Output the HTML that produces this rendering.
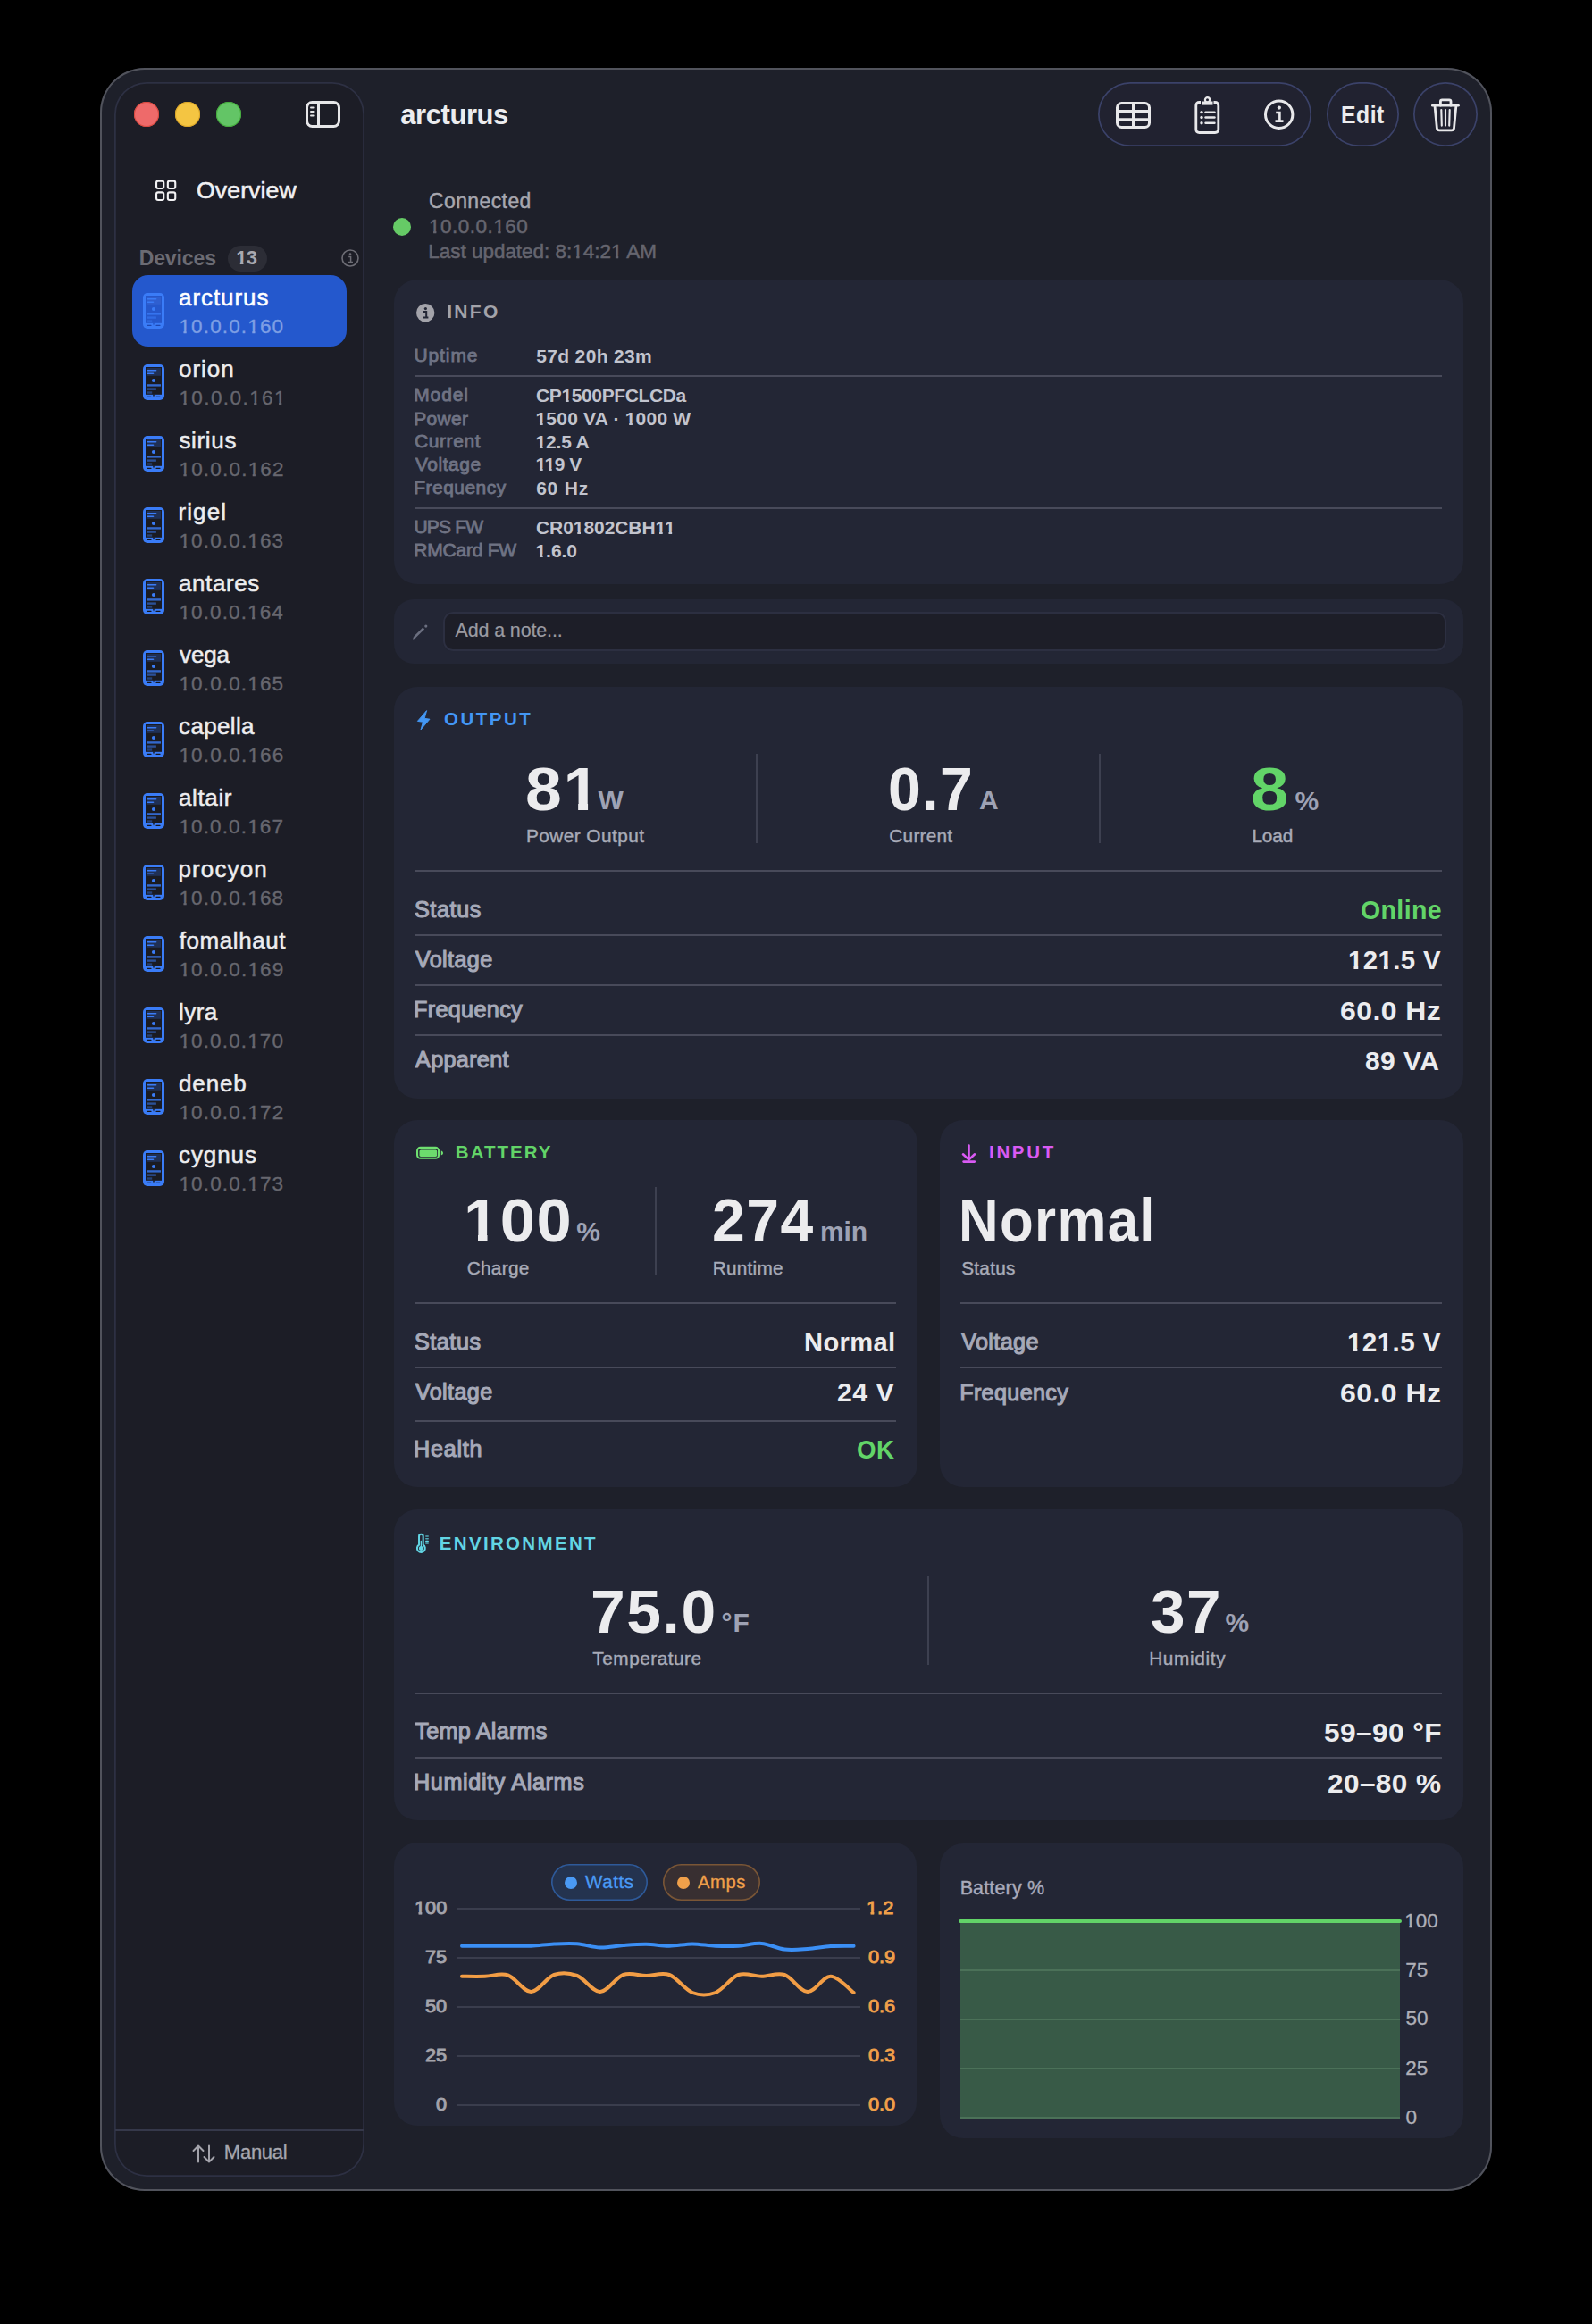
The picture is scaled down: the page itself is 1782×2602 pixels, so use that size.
<!DOCTYPE html>
<html><head><meta charset="utf-8"><style>
html,body{margin:0;padding:0;background:#000;width:1782px;height:2602px;overflow:hidden}
body{position:relative;font-family:"Liberation Sans",sans-serif}
.t{position:absolute;white-space:nowrap}
</style></head><body>
<div style="position:absolute;left:112.00px;top:76.00px;width:1558.00px;height:2377.00px;border-radius:50px;background:#1e202a;box-shadow:inset 0 0 0 2px #51535c"></div>
<div style="position:absolute;left:128.00px;top:92.00px;width:280.00px;height:2345.00px;border-radius:36px;background:#1c1d26;box-shadow:inset 0 0 0 1.8px #2d3043"></div>
<div style="position:absolute;left:150.00px;top:114.00px;width:28.00px;height:28.00px;border-radius:50%;background:#ee6a6a;box-shadow:inset 0 0 0 1px #d9493f"></div>
<div style="position:absolute;left:196.00px;top:114.00px;width:28.00px;height:28.00px;border-radius:50%;background:#f4c542;box-shadow:inset 0 0 0 1px #dba628"></div>
<div style="position:absolute;left:242.00px;top:114.00px;width:28.00px;height:28.00px;border-radius:50%;background:#63c566;box-shadow:inset 0 0 0 1px #45ad3c"></div>
<svg style="position:absolute;left:342.00px;top:112.00px;overflow:visible" width="40" height="32" viewBox="0 0 40 32"><rect x="1.5" y="2.5" width="36" height="27" rx="6" fill="none" stroke="#e6e6e8" stroke-width="3"/><line x1="14.5" y1="3" x2="14.5" y2="29" stroke="#e6e6e8" stroke-width="3"/><g stroke="#e6e6e8" stroke-width="2" stroke-linecap="round"><line x1="6" y1="8.6" x2="9.6" y2="8.6"/><line x1="6" y1="13" x2="9.6" y2="13"/><line x1="6" y1="17.4" x2="9.6" y2="17.4"/></g></svg>
<svg style="position:absolute;left:0;top:0;pointer-events:none" width="1782" height="2602"><g fill="none" stroke="#f2f2f4" stroke-width="2.1"><rect x="175.05" y="202.65" width="8.2" height="8.4" rx="2"/><rect x="187.85" y="202.65" width="8.4" height="8.4" rx="2"/><rect x="175.05" y="215.35" width="8.2" height="8.7" rx="2"/><rect x="187.85" y="215.35" width="8.4" height="8.7" rx="2"/></g></svg>
<div style="position:absolute;left:255.00px;top:274.50px;width:44.00px;height:29.20px;border-radius:15px;background:#2c2d36"></div>
<svg style="position:absolute;left:382.00px;top:279.00px;overflow:visible" width="20" height="20" viewBox="0 0 20 20"><circle cx="10" cy="10" r="9" fill="none" stroke="#6d6d75" stroke-width="1.6"/><circle cx="10" cy="5.6" r="1.3" fill="#6d6d75"/><path d="M8.2 8.6h2.4v6M8 14.6h5" fill="none" stroke="#6d6d75" stroke-width="1.5"/></svg>
<div style="position:absolute;left:148.00px;top:308.00px;width:240.00px;height:80.00px;border-radius:18px;background:#2458cd"></div>
<svg style="position:absolute;left:160.00px;top:328.30px;overflow:visible" width="24" height="40" viewBox="0 0 24 40"><rect x="0" y="0" width="24" height="40" rx="5" fill="#3a7cf7"/><rect x="3" y="3" width="18" height="30.8" fill="#2557cb"/><rect x="4" y="4" width="16" height="8.8" fill="#2f5fd0"/><g stroke="#3a7cf7" stroke-linecap="round"><line x1="5.4" y1="6.7" x2="14.6" y2="6.7" stroke-width="1.6"/><line x1="5.4" y1="10.3" x2="11.5" y2="10.3" stroke-width="1.6"/></g><circle cx="12" cy="18" r="2.1" fill="#3a7cf7"/><rect x="4" y="22.2" width="16" height="2.4" fill="#3a7cf7" opacity="0.8"/><rect x="4" y="26.4" width="10.9" height="2.4" fill="#3a7cf7" opacity="0.55"/><rect x="4" y="30.3" width="6.2" height="2.4" fill="#3a7cf7" opacity="0.4"/><g stroke="#1d46b0" stroke-width="1.1" stroke-linecap="round"><line x1="5" y1="36.4" x2="9" y2="36.4"/><line x1="15" y1="36.4" x2="19" y2="36.4"/></g><path d="M10.9 33.6 L12 36.8 L13.1 33.6Z" fill="#2557cb"/></svg>
<svg style="position:absolute;left:160.00px;top:408.30px;overflow:visible" width="24" height="40" viewBox="0 0 24 40"><rect x="0" y="0" width="24" height="40" rx="5" fill="#3a7cf7"/><rect x="3" y="3" width="18" height="30.8" fill="#1a1b22"/><rect x="4" y="4" width="16" height="8.8" fill="#203055"/><g stroke="#3a7cf7" stroke-linecap="round"><line x1="5.4" y1="6.7" x2="14.6" y2="6.7" stroke-width="1.6"/><line x1="5.4" y1="10.3" x2="11.5" y2="10.3" stroke-width="1.6"/></g><circle cx="12" cy="18" r="2.1" fill="#3a7cf7"/><rect x="4" y="22.2" width="16" height="2.4" fill="#3a7cf7" opacity="0.8"/><rect x="4" y="26.4" width="10.9" height="2.4" fill="#3a7cf7" opacity="0.55"/><rect x="4" y="30.3" width="6.2" height="2.4" fill="#3a7cf7" opacity="0.4"/><g stroke="#15161d" stroke-width="1.1" stroke-linecap="round"><line x1="5" y1="36.4" x2="9" y2="36.4"/><line x1="15" y1="36.4" x2="19" y2="36.4"/></g><path d="M10.9 33.6 L12 36.8 L13.1 33.6Z" fill="#1a1b22"/></svg>
<svg style="position:absolute;left:160.00px;top:488.30px;overflow:visible" width="24" height="40" viewBox="0 0 24 40"><rect x="0" y="0" width="24" height="40" rx="5" fill="#3a7cf7"/><rect x="3" y="3" width="18" height="30.8" fill="#1a1b22"/><rect x="4" y="4" width="16" height="8.8" fill="#203055"/><g stroke="#3a7cf7" stroke-linecap="round"><line x1="5.4" y1="6.7" x2="14.6" y2="6.7" stroke-width="1.6"/><line x1="5.4" y1="10.3" x2="11.5" y2="10.3" stroke-width="1.6"/></g><circle cx="12" cy="18" r="2.1" fill="#3a7cf7"/><rect x="4" y="22.2" width="16" height="2.4" fill="#3a7cf7" opacity="0.8"/><rect x="4" y="26.4" width="10.9" height="2.4" fill="#3a7cf7" opacity="0.55"/><rect x="4" y="30.3" width="6.2" height="2.4" fill="#3a7cf7" opacity="0.4"/><g stroke="#15161d" stroke-width="1.1" stroke-linecap="round"><line x1="5" y1="36.4" x2="9" y2="36.4"/><line x1="15" y1="36.4" x2="19" y2="36.4"/></g><path d="M10.9 33.6 L12 36.8 L13.1 33.6Z" fill="#1a1b22"/></svg>
<svg style="position:absolute;left:160.00px;top:568.30px;overflow:visible" width="24" height="40" viewBox="0 0 24 40"><rect x="0" y="0" width="24" height="40" rx="5" fill="#3a7cf7"/><rect x="3" y="3" width="18" height="30.8" fill="#1a1b22"/><rect x="4" y="4" width="16" height="8.8" fill="#203055"/><g stroke="#3a7cf7" stroke-linecap="round"><line x1="5.4" y1="6.7" x2="14.6" y2="6.7" stroke-width="1.6"/><line x1="5.4" y1="10.3" x2="11.5" y2="10.3" stroke-width="1.6"/></g><circle cx="12" cy="18" r="2.1" fill="#3a7cf7"/><rect x="4" y="22.2" width="16" height="2.4" fill="#3a7cf7" opacity="0.8"/><rect x="4" y="26.4" width="10.9" height="2.4" fill="#3a7cf7" opacity="0.55"/><rect x="4" y="30.3" width="6.2" height="2.4" fill="#3a7cf7" opacity="0.4"/><g stroke="#15161d" stroke-width="1.1" stroke-linecap="round"><line x1="5" y1="36.4" x2="9" y2="36.4"/><line x1="15" y1="36.4" x2="19" y2="36.4"/></g><path d="M10.9 33.6 L12 36.8 L13.1 33.6Z" fill="#1a1b22"/></svg>
<svg style="position:absolute;left:160.00px;top:648.30px;overflow:visible" width="24" height="40" viewBox="0 0 24 40"><rect x="0" y="0" width="24" height="40" rx="5" fill="#3a7cf7"/><rect x="3" y="3" width="18" height="30.8" fill="#1a1b22"/><rect x="4" y="4" width="16" height="8.8" fill="#203055"/><g stroke="#3a7cf7" stroke-linecap="round"><line x1="5.4" y1="6.7" x2="14.6" y2="6.7" stroke-width="1.6"/><line x1="5.4" y1="10.3" x2="11.5" y2="10.3" stroke-width="1.6"/></g><circle cx="12" cy="18" r="2.1" fill="#3a7cf7"/><rect x="4" y="22.2" width="16" height="2.4" fill="#3a7cf7" opacity="0.8"/><rect x="4" y="26.4" width="10.9" height="2.4" fill="#3a7cf7" opacity="0.55"/><rect x="4" y="30.3" width="6.2" height="2.4" fill="#3a7cf7" opacity="0.4"/><g stroke="#15161d" stroke-width="1.1" stroke-linecap="round"><line x1="5" y1="36.4" x2="9" y2="36.4"/><line x1="15" y1="36.4" x2="19" y2="36.4"/></g><path d="M10.9 33.6 L12 36.8 L13.1 33.6Z" fill="#1a1b22"/></svg>
<svg style="position:absolute;left:160.00px;top:728.30px;overflow:visible" width="24" height="40" viewBox="0 0 24 40"><rect x="0" y="0" width="24" height="40" rx="5" fill="#3a7cf7"/><rect x="3" y="3" width="18" height="30.8" fill="#1a1b22"/><rect x="4" y="4" width="16" height="8.8" fill="#203055"/><g stroke="#3a7cf7" stroke-linecap="round"><line x1="5.4" y1="6.7" x2="14.6" y2="6.7" stroke-width="1.6"/><line x1="5.4" y1="10.3" x2="11.5" y2="10.3" stroke-width="1.6"/></g><circle cx="12" cy="18" r="2.1" fill="#3a7cf7"/><rect x="4" y="22.2" width="16" height="2.4" fill="#3a7cf7" opacity="0.8"/><rect x="4" y="26.4" width="10.9" height="2.4" fill="#3a7cf7" opacity="0.55"/><rect x="4" y="30.3" width="6.2" height="2.4" fill="#3a7cf7" opacity="0.4"/><g stroke="#15161d" stroke-width="1.1" stroke-linecap="round"><line x1="5" y1="36.4" x2="9" y2="36.4"/><line x1="15" y1="36.4" x2="19" y2="36.4"/></g><path d="M10.9 33.6 L12 36.8 L13.1 33.6Z" fill="#1a1b22"/></svg>
<svg style="position:absolute;left:160.00px;top:808.30px;overflow:visible" width="24" height="40" viewBox="0 0 24 40"><rect x="0" y="0" width="24" height="40" rx="5" fill="#3a7cf7"/><rect x="3" y="3" width="18" height="30.8" fill="#1a1b22"/><rect x="4" y="4" width="16" height="8.8" fill="#203055"/><g stroke="#3a7cf7" stroke-linecap="round"><line x1="5.4" y1="6.7" x2="14.6" y2="6.7" stroke-width="1.6"/><line x1="5.4" y1="10.3" x2="11.5" y2="10.3" stroke-width="1.6"/></g><circle cx="12" cy="18" r="2.1" fill="#3a7cf7"/><rect x="4" y="22.2" width="16" height="2.4" fill="#3a7cf7" opacity="0.8"/><rect x="4" y="26.4" width="10.9" height="2.4" fill="#3a7cf7" opacity="0.55"/><rect x="4" y="30.3" width="6.2" height="2.4" fill="#3a7cf7" opacity="0.4"/><g stroke="#15161d" stroke-width="1.1" stroke-linecap="round"><line x1="5" y1="36.4" x2="9" y2="36.4"/><line x1="15" y1="36.4" x2="19" y2="36.4"/></g><path d="M10.9 33.6 L12 36.8 L13.1 33.6Z" fill="#1a1b22"/></svg>
<svg style="position:absolute;left:160.00px;top:888.30px;overflow:visible" width="24" height="40" viewBox="0 0 24 40"><rect x="0" y="0" width="24" height="40" rx="5" fill="#3a7cf7"/><rect x="3" y="3" width="18" height="30.8" fill="#1a1b22"/><rect x="4" y="4" width="16" height="8.8" fill="#203055"/><g stroke="#3a7cf7" stroke-linecap="round"><line x1="5.4" y1="6.7" x2="14.6" y2="6.7" stroke-width="1.6"/><line x1="5.4" y1="10.3" x2="11.5" y2="10.3" stroke-width="1.6"/></g><circle cx="12" cy="18" r="2.1" fill="#3a7cf7"/><rect x="4" y="22.2" width="16" height="2.4" fill="#3a7cf7" opacity="0.8"/><rect x="4" y="26.4" width="10.9" height="2.4" fill="#3a7cf7" opacity="0.55"/><rect x="4" y="30.3" width="6.2" height="2.4" fill="#3a7cf7" opacity="0.4"/><g stroke="#15161d" stroke-width="1.1" stroke-linecap="round"><line x1="5" y1="36.4" x2="9" y2="36.4"/><line x1="15" y1="36.4" x2="19" y2="36.4"/></g><path d="M10.9 33.6 L12 36.8 L13.1 33.6Z" fill="#1a1b22"/></svg>
<svg style="position:absolute;left:160.00px;top:968.30px;overflow:visible" width="24" height="40" viewBox="0 0 24 40"><rect x="0" y="0" width="24" height="40" rx="5" fill="#3a7cf7"/><rect x="3" y="3" width="18" height="30.8" fill="#1a1b22"/><rect x="4" y="4" width="16" height="8.8" fill="#203055"/><g stroke="#3a7cf7" stroke-linecap="round"><line x1="5.4" y1="6.7" x2="14.6" y2="6.7" stroke-width="1.6"/><line x1="5.4" y1="10.3" x2="11.5" y2="10.3" stroke-width="1.6"/></g><circle cx="12" cy="18" r="2.1" fill="#3a7cf7"/><rect x="4" y="22.2" width="16" height="2.4" fill="#3a7cf7" opacity="0.8"/><rect x="4" y="26.4" width="10.9" height="2.4" fill="#3a7cf7" opacity="0.55"/><rect x="4" y="30.3" width="6.2" height="2.4" fill="#3a7cf7" opacity="0.4"/><g stroke="#15161d" stroke-width="1.1" stroke-linecap="round"><line x1="5" y1="36.4" x2="9" y2="36.4"/><line x1="15" y1="36.4" x2="19" y2="36.4"/></g><path d="M10.9 33.6 L12 36.8 L13.1 33.6Z" fill="#1a1b22"/></svg>
<svg style="position:absolute;left:160.00px;top:1048.30px;overflow:visible" width="24" height="40" viewBox="0 0 24 40"><rect x="0" y="0" width="24" height="40" rx="5" fill="#3a7cf7"/><rect x="3" y="3" width="18" height="30.8" fill="#1a1b22"/><rect x="4" y="4" width="16" height="8.8" fill="#203055"/><g stroke="#3a7cf7" stroke-linecap="round"><line x1="5.4" y1="6.7" x2="14.6" y2="6.7" stroke-width="1.6"/><line x1="5.4" y1="10.3" x2="11.5" y2="10.3" stroke-width="1.6"/></g><circle cx="12" cy="18" r="2.1" fill="#3a7cf7"/><rect x="4" y="22.2" width="16" height="2.4" fill="#3a7cf7" opacity="0.8"/><rect x="4" y="26.4" width="10.9" height="2.4" fill="#3a7cf7" opacity="0.55"/><rect x="4" y="30.3" width="6.2" height="2.4" fill="#3a7cf7" opacity="0.4"/><g stroke="#15161d" stroke-width="1.1" stroke-linecap="round"><line x1="5" y1="36.4" x2="9" y2="36.4"/><line x1="15" y1="36.4" x2="19" y2="36.4"/></g><path d="M10.9 33.6 L12 36.8 L13.1 33.6Z" fill="#1a1b22"/></svg>
<svg style="position:absolute;left:160.00px;top:1128.30px;overflow:visible" width="24" height="40" viewBox="0 0 24 40"><rect x="0" y="0" width="24" height="40" rx="5" fill="#3a7cf7"/><rect x="3" y="3" width="18" height="30.8" fill="#1a1b22"/><rect x="4" y="4" width="16" height="8.8" fill="#203055"/><g stroke="#3a7cf7" stroke-linecap="round"><line x1="5.4" y1="6.7" x2="14.6" y2="6.7" stroke-width="1.6"/><line x1="5.4" y1="10.3" x2="11.5" y2="10.3" stroke-width="1.6"/></g><circle cx="12" cy="18" r="2.1" fill="#3a7cf7"/><rect x="4" y="22.2" width="16" height="2.4" fill="#3a7cf7" opacity="0.8"/><rect x="4" y="26.4" width="10.9" height="2.4" fill="#3a7cf7" opacity="0.55"/><rect x="4" y="30.3" width="6.2" height="2.4" fill="#3a7cf7" opacity="0.4"/><g stroke="#15161d" stroke-width="1.1" stroke-linecap="round"><line x1="5" y1="36.4" x2="9" y2="36.4"/><line x1="15" y1="36.4" x2="19" y2="36.4"/></g><path d="M10.9 33.6 L12 36.8 L13.1 33.6Z" fill="#1a1b22"/></svg>
<svg style="position:absolute;left:160.00px;top:1208.30px;overflow:visible" width="24" height="40" viewBox="0 0 24 40"><rect x="0" y="0" width="24" height="40" rx="5" fill="#3a7cf7"/><rect x="3" y="3" width="18" height="30.8" fill="#1a1b22"/><rect x="4" y="4" width="16" height="8.8" fill="#203055"/><g stroke="#3a7cf7" stroke-linecap="round"><line x1="5.4" y1="6.7" x2="14.6" y2="6.7" stroke-width="1.6"/><line x1="5.4" y1="10.3" x2="11.5" y2="10.3" stroke-width="1.6"/></g><circle cx="12" cy="18" r="2.1" fill="#3a7cf7"/><rect x="4" y="22.2" width="16" height="2.4" fill="#3a7cf7" opacity="0.8"/><rect x="4" y="26.4" width="10.9" height="2.4" fill="#3a7cf7" opacity="0.55"/><rect x="4" y="30.3" width="6.2" height="2.4" fill="#3a7cf7" opacity="0.4"/><g stroke="#15161d" stroke-width="1.1" stroke-linecap="round"><line x1="5" y1="36.4" x2="9" y2="36.4"/><line x1="15" y1="36.4" x2="19" y2="36.4"/></g><path d="M10.9 33.6 L12 36.8 L13.1 33.6Z" fill="#1a1b22"/></svg>
<svg style="position:absolute;left:160.00px;top:1288.30px;overflow:visible" width="24" height="40" viewBox="0 0 24 40"><rect x="0" y="0" width="24" height="40" rx="5" fill="#3a7cf7"/><rect x="3" y="3" width="18" height="30.8" fill="#1a1b22"/><rect x="4" y="4" width="16" height="8.8" fill="#203055"/><g stroke="#3a7cf7" stroke-linecap="round"><line x1="5.4" y1="6.7" x2="14.6" y2="6.7" stroke-width="1.6"/><line x1="5.4" y1="10.3" x2="11.5" y2="10.3" stroke-width="1.6"/></g><circle cx="12" cy="18" r="2.1" fill="#3a7cf7"/><rect x="4" y="22.2" width="16" height="2.4" fill="#3a7cf7" opacity="0.8"/><rect x="4" y="26.4" width="10.9" height="2.4" fill="#3a7cf7" opacity="0.55"/><rect x="4" y="30.3" width="6.2" height="2.4" fill="#3a7cf7" opacity="0.4"/><g stroke="#15161d" stroke-width="1.1" stroke-linecap="round"><line x1="5" y1="36.4" x2="9" y2="36.4"/><line x1="15" y1="36.4" x2="19" y2="36.4"/></g><path d="M10.9 33.6 L12 36.8 L13.1 33.6Z" fill="#1a1b22"/></svg>
<div style="position:absolute;left:129.00px;top:2384.00px;width:278.00px;height:2.00px;background:#35384a"></div>
<svg style="position:absolute;left:214.00px;top:2400.00px;overflow:visible" width="28" height="22" viewBox="0 0 28 22"><g fill="none" stroke="#a3a3ab" stroke-width="2" stroke-linecap="round" stroke-linejoin="round"><path d="M8 20.5V2.5M2.5 8L8 2.5L13.5 8"/><path d="M20 2.5V20.5M14.5 15L20 20.5L25.5 15"/></g></svg>
<div style="position:absolute;left:1229.00px;top:92.00px;width:239.00px;height:72.00px;border-radius:36px;background:#212230;box-shadow:inset 0 0 0 1.7px #3b4269"></div>
<div style="position:absolute;left:1485.00px;top:92.00px;width:81.00px;height:72.00px;border-radius:36px;background:#212230;box-shadow:inset 0 0 0 1.7px #3b4269"></div>
<div style="position:absolute;left:1582.00px;top:92.00px;width:72.00px;height:72.00px;border-radius:36px;background:#212230;box-shadow:inset 0 0 0 1.7px #3b4269"></div>
<svg style="position:absolute;left:1249.00px;top:114.00px;overflow:visible" width="39" height="30" viewBox="0 0 39 30"><g fill="none" stroke="#e8e8ea" stroke-width="3"><rect x="1.5" y="1.5" width="36" height="27" rx="5"/><line x1="19.5" y1="1.5" x2="19.5" y2="28.5"/><line x1="1.5" y1="10.5" x2="37.5" y2="10.5"/><line x1="1.5" y1="19.8" x2="37.5" y2="19.8"/></g></svg>
<svg style="position:absolute;left:1337.00px;top:108.00px;overflow:visible" width="30" height="42" viewBox="0 0 30 42"><g fill="none" stroke="#e8e8ea" stroke-width="2.8" stroke-linejoin="round"><path d="M7 6.5 H5.5 Q1.8 6.5 1.8 10.2 V36.8 Q1.8 40.5 5.5 40.5 H23 Q26.8 40.5 26.8 36.8 V10.2 Q26.8 6.5 23 6.5 H21.5"/></g><path d="M8 5.5 H20.5 V9.6 H8 Z" fill="#e8e8ea"/><circle cx="14.5" cy="3.8" r="2.6" fill="none" stroke="#e8e8ea" stroke-width="2.2"/><g fill="#e8e8ea"><circle cx="8" cy="17.6" r="1.7"/><circle cx="8" cy="23.5" r="1.7"/><circle cx="8" cy="29.7" r="1.7"/></g><g stroke="#e8e8ea" stroke-width="2.4" stroke-linecap="round"><line x1="12.5" y1="17.6" x2="22.5" y2="17.6"/><line x1="12.5" y1="23.5" x2="22.5" y2="23.5"/><line x1="12.5" y1="29.7" x2="22.5" y2="29.7"/></g></svg>
<svg style="position:absolute;left:1414.00px;top:111.00px;overflow:visible" width="36" height="36" viewBox="0 0 36 36"><circle cx="17.7" cy="17.3" r="15.2" fill="none" stroke="#e8e8ea" stroke-width="3"/><circle cx="17.9" cy="9.6" r="2.1" fill="#e8e8ea"/><path d="M14.2 15h4.2v9.5M13.5 24.6h9" fill="none" stroke="#e8e8ea" stroke-width="2.6"/></svg>
<svg style="position:absolute;left:1600.00px;top:108.00px;overflow:visible" width="36" height="42" viewBox="0 0 36 42"><g fill="none" stroke="#e8e8ea" stroke-width="2.8" stroke-linecap="round" stroke-linejoin="round"><line x1="3.4" y1="10.2" x2="32.4" y2="10.2"/><path d="M12.4 10.2 V5.6 Q12.4 3.9 14.2 3.9 H22.2 Q24 3.9 24 5.6 V10.2"/><path d="M6 10.4 L8.4 35.6 Q8.7 37.8 11.2 37.8 H24.7 Q27.2 37.8 27.5 35.6 L29.9 10.4"/><line x1="13.3" y1="15" x2="13.8" y2="32.6" stroke-width="2.1"/><line x1="18" y1="15" x2="18" y2="32.6" stroke-width="2.1"/><line x1="22.7" y1="15" x2="22.2" y2="32.6" stroke-width="2.1"/></g></svg>
<div style="position:absolute;left:440.00px;top:244.00px;width:20.00px;height:20.00px;border-radius:50%;background:#66ca66"></div>
<div style="position:absolute;left:440.50px;top:312.50px;width:1197.50px;height:341.00px;border-radius:26px;background:#232635"></div>
<svg style="position:absolute;left:466.00px;top:339.60px;overflow:visible" width="20.4" height="20.4" viewBox="0 0 20.4 20.4"><circle cx="10.2" cy="10.2" r="10.2" fill="#a3a3aa"/><circle cx="10.4" cy="5.6" r="1.6" fill="#232635"/><path d="M8 9h3.2v6.2M7.8 15.4h5.6" fill="none" stroke="#232635" stroke-width="2"/></svg>
<div style="position:absolute;left:464.50px;top:420.20px;width:1149.50px;height:2.00px;background:#484a5a"></div>
<div style="position:absolute;left:464.50px;top:567.60px;width:1149.50px;height:2.00px;background:#484a5a"></div>
<div style="position:absolute;left:441.00px;top:670.50px;width:1197.00px;height:72.50px;border-radius:22px;background:#232635"></div>
<div style="position:absolute;left:496.30px;top:684.80px;width:1122.70px;height:44.00px;border-radius:11px;background:#1d1e28;box-shadow:inset 0 0 0 2px #2c2f41"></div>
<svg style="position:absolute;left:0;top:0;pointer-events:none" width="1782" height="2602"><line x1="464.2" y1="713.4" x2="474.2" y2="703.5" stroke="#6b6f80" stroke-width="2.6"/><path d="M462 715.8 L463.2 712.4 L465.4 714.6 Z" fill="#6b6f80"/><circle cx="476.8" cy="701.1" r="1.6" fill="#6b6f80"/></svg>
<div style="position:absolute;left:441.00px;top:768.50px;width:1197.00px;height:461.50px;border-radius:26px;background:#232635"></div>
<svg style="position:absolute;left:0;top:0;pointer-events:none" width="1782" height="2602"><path d="M477.6 795.6 L467.4 807.4 L473.4 808.3 L471 817 L481 805.2 L475.2 804.3 Z" fill="#4397f5" stroke="#4397f5" stroke-width="0.9" stroke-linejoin="round"/></svg>
<div style="position:absolute;left:846.20px;top:844.00px;width:2.00px;height:100.00px;background:#3d4050"></div>
<div style="position:absolute;left:1229.80px;top:844.00px;width:2.00px;height:100.00px;background:#3d4050"></div>
<div style="position:absolute;left:464.00px;top:973.70px;width:1150.00px;height:2.00px;background:#484a5a"></div>
<div style="position:absolute;left:464.00px;top:1046.10px;width:1150.00px;height:2.00px;background:#484a5a"></div>
<div style="position:absolute;left:464.00px;top:1102.00px;width:1150.00px;height:2.00px;background:#484a5a"></div>
<div style="position:absolute;left:464.00px;top:1158.10px;width:1150.00px;height:2.00px;background:#484a5a"></div>
<div style="position:absolute;left:441.00px;top:1254.40px;width:585.60px;height:411.00px;border-radius:26px;background:#232635"></div>
<svg style="position:absolute;left:0;top:0;pointer-events:none" width="1782" height="2602"><rect x="467.05" y="1284.85" width="24" height="11.9" rx="3.6" fill="none" stroke="#6fe070" stroke-width="2.1"/><rect x="469.5" y="1287.5" width="19.7" height="7.4" rx="1.6" fill="#6cdb6d"/><path d="M493.8 1288.3 Q496.1 1289.4 496.1 1290.95 Q496.1 1292.5 493.8 1293.6Z" fill="#6fe070"/></svg>
<div style="position:absolute;left:732.70px;top:1328.80px;width:2.00px;height:98.90px;background:#3d4050"></div>
<div style="position:absolute;left:464.00px;top:1458.00px;width:538.60px;height:2.00px;background:#484a5a"></div>
<div style="position:absolute;left:464.00px;top:1530.00px;width:538.60px;height:2.00px;background:#484a5a"></div>
<div style="position:absolute;left:464.00px;top:1590.00px;width:538.60px;height:2.00px;background:#484a5a"></div>
<div style="position:absolute;left:1051.70px;top:1254.40px;width:586.00px;height:411.00px;border-radius:26px;background:#232635"></div>
<svg style="position:absolute;left:0;top:0;pointer-events:none" width="1782" height="2602"><g fill="none" stroke="#d95af3" stroke-width="2.6" stroke-linecap="round" stroke-linejoin="round"><path d="M1084.5 1282.6 V1297.6 M1078 1292.3 L1084.5 1298.4 L1091 1292.3"/><line x1="1078.6" y1="1300.6" x2="1090.8" y2="1300.6"/></g></svg>
<div style="position:absolute;left:1075.00px;top:1457.50px;width:538.50px;height:2.00px;background:#484a5a"></div>
<div style="position:absolute;left:1075.00px;top:1529.80px;width:538.50px;height:2.00px;background:#484a5a"></div>
<div style="position:absolute;left:441.00px;top:1690.20px;width:1197.00px;height:348.10px;border-radius:26px;background:#232635"></div>
<svg style="position:absolute;left:0;top:0;pointer-events:none" width="1782" height="2602"><path d="M469.03 1729.66 V1720.2 A2.33 2.33 0 0 1 473.69 1720.2 V1729.66 A4.45 4.45 0 1 1 469.03 1729.66 Z" fill="none" stroke="#62d5e4" stroke-width="2"/><line x1="471.36" y1="1725.4" x2="471.36" y2="1732" stroke="#62d5e4" stroke-width="1.3" stroke-linecap="round"/><circle cx="471.36" cy="1733.6" r="2.5" fill="#62d5e4"/><g stroke="#62d5e4" stroke-width="1.5" stroke-linecap="round"><line x1="476.8" y1="1720" x2="479.2" y2="1720" opacity="0.75"/><line x1="476.8" y1="1722.7" x2="479.2" y2="1722.7" opacity="0.75"/><line x1="476.8" y1="1725.4" x2="479.2" y2="1725.4"/><line x1="476.8" y1="1728.1" x2="479.2" y2="1728.1" opacity="0.75"/></g></svg>
<div style="position:absolute;left:1037.60px;top:1765.40px;width:2.00px;height:98.50px;background:#3d4050"></div>
<div style="position:absolute;left:464.00px;top:1894.90px;width:1150.00px;height:2.00px;background:#484a5a"></div>
<div style="position:absolute;left:464.00px;top:1966.90px;width:1150.00px;height:2.00px;background:#484a5a"></div>
<div style="position:absolute;left:440.70px;top:2063.40px;width:585.70px;height:317.10px;border-radius:26px;background:#232635"></div>
<div style="position:absolute;left:616.60px;top:2087.20px;width:108.80px;height:41.30px;border-radius:21px;background:#24334f;box-shadow:inset 0 0 0 1.6px #2e5a9a"></div>
<div style="position:absolute;left:631.80px;top:2101.20px;width:14.00px;height:14.00px;border-radius:50%;background:#4a9af5"></div>
<div style="position:absolute;left:742.30px;top:2087.20px;width:108.40px;height:41.30px;border-radius:21px;background:#382f31;box-shadow:inset 0 0 0 1.6px #7a5636"></div>
<div style="position:absolute;left:757.50px;top:2101.20px;width:14.00px;height:14.00px;border-radius:50%;background:#f0a04a"></div>
<div style="position:absolute;left:510.50px;top:2136.00px;width:452.20px;height:2.00px;background:#3a3d4d"></div>
<div style="position:absolute;left:510.50px;top:2190.80px;width:452.20px;height:2.00px;background:#3a3d4d"></div>
<div style="position:absolute;left:510.50px;top:2245.60px;width:452.20px;height:2.00px;background:#3a3d4d"></div>
<div style="position:absolute;left:510.50px;top:2300.70px;width:452.20px;height:2.00px;background:#3a3d4d"></div>
<div style="position:absolute;left:510.50px;top:2355.70px;width:452.20px;height:2.00px;background:#3a3d4d"></div>
<svg style="position:absolute;left:0;top:0" width="1782" height="2602"><path d="M517.00 2178.70 C521.30 2178.70 534.20 2178.70 542.80 2178.70 C551.40 2178.70 560.00 2178.70 568.60 2178.70 C577.20 2178.70 585.80 2179.07 594.40 2178.70 C603.00 2178.33 611.60 2176.90 620.20 2176.50 C628.80 2176.10 637.40 2175.62 646.00 2176.30 C654.60 2176.98 663.20 2180.32 671.80 2180.60 C680.40 2180.88 689.00 2178.65 697.60 2178.00 C706.20 2177.35 714.80 2176.58 723.40 2176.70 C732.00 2176.82 740.60 2178.75 749.20 2178.70 C757.80 2178.65 766.40 2176.40 775.00 2176.40 C783.60 2176.40 792.20 2178.32 800.80 2178.70 C809.40 2179.08 818.00 2179.17 826.60 2178.70 C835.20 2178.23 843.80 2175.27 852.40 2175.90 C861.00 2176.53 869.60 2181.48 878.20 2182.50 C886.80 2183.52 895.40 2182.58 904.00 2182.00 C912.60 2181.42 921.20 2179.55 929.80 2179.00 C938.40 2178.45 951.30 2178.75 955.60 2178.70" fill="none" stroke="#3b8ff5" stroke-width="4" stroke-linecap="round" stroke-linejoin="round"/><path d="M517.00 2212.80 C521.30 2212.80 534.20 2213.02 542.80 2212.80 C551.40 2212.58 560.00 2208.63 568.60 2211.50 C577.20 2214.37 585.80 2230.08 594.40 2230.00 C603.00 2229.92 611.60 2214.00 620.20 2211.00 C628.80 2208.00 637.40 2208.83 646.00 2212.00 C654.60 2215.17 663.20 2230.17 671.80 2230.00 C680.40 2229.83 689.00 2214.00 697.60 2211.00 C706.20 2208.00 714.80 2212.00 723.40 2212.00 C732.00 2212.00 740.60 2207.83 749.20 2211.00 C757.80 2214.17 766.40 2227.67 775.00 2231.00 C783.60 2234.33 792.20 2234.33 800.80 2231.00 C809.40 2227.67 818.00 2214.03 826.60 2211.00 C835.20 2207.97 843.80 2212.80 852.40 2212.80 C861.00 2212.80 869.60 2208.13 878.20 2211.00 C886.80 2213.87 895.40 2229.70 904.00 2230.00 C912.60 2230.30 921.20 2212.63 929.80 2212.80 C938.40 2212.97 951.30 2227.97 955.60 2231.00" fill="none" stroke="#f29d45" stroke-width="4" stroke-linecap="round" stroke-linejoin="round"/></svg>
<div style="position:absolute;left:1051.70px;top:2063.60px;width:586.00px;height:330.80px;border-radius:26px;background:#232635"></div>
<div style="position:absolute;left:1075.00px;top:2151.20px;width:491.50px;height:220.10px;background:#385a47"></div>
<div style="position:absolute;left:1075.00px;top:2204.80px;width:491.50px;height:2.00px;background:#4b7158"></div>
<div style="position:absolute;left:1075.00px;top:2259.70px;width:491.50px;height:2.00px;background:#4b7158"></div>
<div style="position:absolute;left:1075.00px;top:2315.00px;width:491.50px;height:2.00px;background:#4b7158"></div>
<div style="position:absolute;left:1075.00px;top:2370.30px;width:491.50px;height:2.00px;background:#4b7158"></div>
<div style="position:absolute;left:1073.00px;top:2149.20px;width:495.50px;height:4.00px;background:#62d468;border-radius:2px"></div>
<div class="t" style="left:220.04px;top:199.60px;font-size:26.60px;line-height:26.60px;font-weight:400;color:#f0f0f2;letter-spacing:0.109px;-webkit-text-stroke:0.60px #f0f0f2;">Overview</div>
<div class="t" style="left:155.66px;top:277.50px;font-size:23.00px;line-height:23.00px;font-weight:700;color:#6b6b73;letter-spacing:-0.113px;">Devices</div>
<div class="t" style="left:264.13px;top:278.85px;font-size:21.50px;line-height:21.50px;font-weight:700;color:#a9a9b0;letter-spacing:-0.068px;"><span style="clip-path:polygon(-20px -40px,25.8px -40px,25.8px 15.81px,8.37px 15.81px,8.37px 43.0px,4.62px 43.0px,4.62px 15.81px,-20px 15.81px)">1</span>3</div>
<div class="t" style="left:200.05px;top:319.65px;font-size:26.00px;line-height:26.00px;font-weight:400;color:#ffffff;letter-spacing:0.918px;-webkit-text-stroke:0.50px #ffffff;">arcturus</div>
<div class="t" style="left:200.41px;top:355.18px;font-size:22.50px;line-height:22.50px;font-weight:400;color:#7e9fe4;letter-spacing:1.150px;-webkit-text-stroke:0.35px #7e9fe4;"><span style="clip-path:polygon(-20px -40px,27.0px -40px,27.0px 17.32px,8.22px 17.32px,8.22px 45.0px,5.08px 45.0px,5.08px 17.32px,-20px 17.32px)">1</span>0.0.0.<span style="clip-path:polygon(-20px -40px,27.0px -40px,27.0px 17.32px,8.22px 17.32px,8.22px 45.0px,5.08px 45.0px,5.08px 17.32px,-20px 17.32px)">1</span>60</div>
<div class="t" style="left:200.06px;top:399.65px;font-size:26.00px;line-height:26.00px;font-weight:400;color:#ededef;letter-spacing:0.966px;-webkit-text-stroke:0.50px #ededef;">orion</div>
<div class="t" style="left:200.41px;top:435.18px;font-size:22.50px;line-height:22.50px;font-weight:400;color:#67676f;letter-spacing:1.415px;-webkit-text-stroke:0.35px #67676f;"><span style="clip-path:polygon(-20px -40px,27.0px -40px,27.0px 17.32px,8.22px 17.32px,8.22px 45.0px,5.08px 45.0px,5.08px 17.32px,-20px 17.32px)">1</span>0.0.0.<span style="clip-path:polygon(-20px -40px,27.0px -40px,27.0px 17.32px,8.22px 17.32px,8.22px 45.0px,5.08px 45.0px,5.08px 17.32px,-20px 17.32px)">1</span>6<span style="clip-path:polygon(-20px -40px,27.0px -40px,27.0px 17.32px,8.22px 17.32px,8.22px 45.0px,5.08px 45.0px,5.08px 17.32px,-20px 17.32px)">1</span></div>
<div class="t" style="left:200.43px;top:479.65px;font-size:26.00px;line-height:26.00px;font-weight:400;color:#ededef;letter-spacing:0.658px;-webkit-text-stroke:0.50px #ededef;">sirius</div>
<div class="t" style="left:200.41px;top:515.18px;font-size:22.50px;line-height:22.50px;font-weight:400;color:#67676f;letter-spacing:1.200px;-webkit-text-stroke:0.35px #67676f;"><span style="clip-path:polygon(-20px -40px,27.0px -40px,27.0px 17.32px,8.22px 17.32px,8.22px 45.0px,5.08px 45.0px,5.08px 17.32px,-20px 17.32px)">1</span>0.0.0.<span style="clip-path:polygon(-20px -40px,27.0px -40px,27.0px 17.32px,8.22px 17.32px,8.22px 45.0px,5.08px 45.0px,5.08px 17.32px,-20px 17.32px)">1</span>62</div>
<div class="t" style="left:199.42px;top:559.65px;font-size:26.00px;line-height:26.00px;font-weight:400;color:#ededef;letter-spacing:1.134px;-webkit-text-stroke:0.50px #ededef;">rigel</div>
<div class="t" style="left:200.41px;top:595.18px;font-size:22.50px;line-height:22.50px;font-weight:400;color:#67676f;letter-spacing:1.151px;-webkit-text-stroke:0.35px #67676f;"><span style="clip-path:polygon(-20px -40px,27.0px -40px,27.0px 17.32px,8.22px 17.32px,8.22px 45.0px,5.08px 45.0px,5.08px 17.32px,-20px 17.32px)">1</span>0.0.0.<span style="clip-path:polygon(-20px -40px,27.0px -40px,27.0px 17.32px,8.22px 17.32px,8.22px 45.0px,5.08px 45.0px,5.08px 17.32px,-20px 17.32px)">1</span>63</div>
<div class="t" style="left:200.05px;top:639.65px;font-size:26.00px;line-height:26.00px;font-weight:400;color:#ededef;letter-spacing:0.570px;-webkit-text-stroke:0.50px #ededef;">antares</div>
<div class="t" style="left:200.41px;top:675.18px;font-size:22.50px;line-height:22.50px;font-weight:400;color:#67676f;letter-spacing:1.114px;-webkit-text-stroke:0.35px #67676f;"><span style="clip-path:polygon(-20px -40px,27.0px -40px,27.0px 17.32px,8.22px 17.32px,8.22px 45.0px,5.08px 45.0px,5.08px 17.32px,-20px 17.32px)">1</span>0.0.0.<span style="clip-path:polygon(-20px -40px,27.0px -40px,27.0px 17.32px,8.22px 17.32px,8.22px 45.0px,5.08px 45.0px,5.08px 17.32px,-20px 17.32px)">1</span>64</div>
<div class="t" style="left:201.06px;top:719.65px;font-size:26.00px;line-height:26.00px;font-weight:400;color:#ededef;letter-spacing:-0.164px;-webkit-text-stroke:0.50px #ededef;">vega</div>
<div class="t" style="left:200.41px;top:755.18px;font-size:22.50px;line-height:22.50px;font-weight:400;color:#67676f;letter-spacing:1.146px;-webkit-text-stroke:0.35px #67676f;"><span style="clip-path:polygon(-20px -40px,27.0px -40px,27.0px 17.32px,8.22px 17.32px,8.22px 45.0px,5.08px 45.0px,5.08px 17.32px,-20px 17.32px)">1</span>0.0.0.<span style="clip-path:polygon(-20px -40px,27.0px -40px,27.0px 17.32px,8.22px 17.32px,8.22px 45.0px,5.08px 45.0px,5.08px 17.32px,-20px 17.32px)">1</span>65</div>
<div class="t" style="left:200.05px;top:799.65px;font-size:26.00px;line-height:26.00px;font-weight:400;color:#ededef;letter-spacing:0.335px;-webkit-text-stroke:0.50px #ededef;">capella</div>
<div class="t" style="left:200.41px;top:835.18px;font-size:22.50px;line-height:22.50px;font-weight:400;color:#67676f;letter-spacing:1.162px;-webkit-text-stroke:0.35px #67676f;"><span style="clip-path:polygon(-20px -40px,27.0px -40px,27.0px 17.32px,8.22px 17.32px,8.22px 45.0px,5.08px 45.0px,5.08px 17.32px,-20px 17.32px)">1</span>0.0.0.<span style="clip-path:polygon(-20px -40px,27.0px -40px,27.0px 17.32px,8.22px 17.32px,8.22px 45.0px,5.08px 45.0px,5.08px 17.32px,-20px 17.32px)">1</span>66</div>
<div class="t" style="left:200.05px;top:879.65px;font-size:26.00px;line-height:26.00px;font-weight:400;color:#ededef;letter-spacing:0.616px;-webkit-text-stroke:0.50px #ededef;">altair</div>
<div class="t" style="left:200.41px;top:915.18px;font-size:22.50px;line-height:22.50px;font-weight:400;color:#67676f;letter-spacing:1.133px;-webkit-text-stroke:0.35px #67676f;"><span style="clip-path:polygon(-20px -40px,27.0px -40px,27.0px 17.32px,8.22px 17.32px,8.22px 45.0px,5.08px 45.0px,5.08px 17.32px,-20px 17.32px)">1</span>0.0.0.<span style="clip-path:polygon(-20px -40px,27.0px -40px,27.0px 17.32px,8.22px 17.32px,8.22px 45.0px,5.08px 45.0px,5.08px 17.32px,-20px 17.32px)">1</span>67</div>
<div class="t" style="left:199.47px;top:959.65px;font-size:26.00px;line-height:26.00px;font-weight:400;color:#ededef;letter-spacing:1.128px;-webkit-text-stroke:0.50px #ededef;">procyon</div>
<div class="t" style="left:200.41px;top:995.18px;font-size:22.50px;line-height:22.50px;font-weight:400;color:#67676f;letter-spacing:1.149px;-webkit-text-stroke:0.35px #67676f;"><span style="clip-path:polygon(-20px -40px,27.0px -40px,27.0px 17.32px,8.22px 17.32px,8.22px 45.0px,5.08px 45.0px,5.08px 17.32px,-20px 17.32px)">1</span>0.0.0.<span style="clip-path:polygon(-20px -40px,27.0px -40px,27.0px 17.32px,8.22px 17.32px,8.22px 45.0px,5.08px 45.0px,5.08px 17.32px,-20px 17.32px)">1</span>68</div>
<div class="t" style="left:200.78px;top:1039.65px;font-size:26.00px;line-height:26.00px;font-weight:400;color:#ededef;letter-spacing:0.572px;-webkit-text-stroke:0.50px #ededef;">fomalhaut</div>
<div class="t" style="left:200.41px;top:1075.17px;font-size:22.50px;line-height:22.50px;font-weight:400;color:#67676f;letter-spacing:1.170px;-webkit-text-stroke:0.35px #67676f;"><span style="clip-path:polygon(-20px -40px,27.0px -40px,27.0px 17.32px,8.22px 17.32px,8.22px 45.0px,5.08px 45.0px,5.08px 17.32px,-20px 17.32px)">1</span>0.0.0.<span style="clip-path:polygon(-20px -40px,27.0px -40px,27.0px 17.32px,8.22px 17.32px,8.22px 45.0px,5.08px 45.0px,5.08px 17.32px,-20px 17.32px)">1</span>69</div>
<div class="t" style="left:199.90px;top:1119.65px;font-size:26.00px;line-height:26.00px;font-weight:400;color:#ededef;letter-spacing:0.486px;-webkit-text-stroke:0.50px #ededef;">lyra</div>
<div class="t" style="left:200.41px;top:1155.17px;font-size:22.50px;line-height:22.50px;font-weight:400;color:#67676f;letter-spacing:1.138px;-webkit-text-stroke:0.35px #67676f;"><span style="clip-path:polygon(-20px -40px,27.0px -40px,27.0px 17.32px,8.22px 17.32px,8.22px 45.0px,5.08px 45.0px,5.08px 17.32px,-20px 17.32px)">1</span>0.0.0.<span style="clip-path:polygon(-20px -40px,27.0px -40px,27.0px 17.32px,8.22px 17.32px,8.22px 45.0px,5.08px 45.0px,5.08px 17.32px,-20px 17.32px)">1</span>70</div>
<div class="t" style="left:200.06px;top:1199.65px;font-size:26.00px;line-height:26.00px;font-weight:400;color:#ededef;letter-spacing:0.846px;-webkit-text-stroke:0.50px #ededef;">deneb</div>
<div class="t" style="left:200.41px;top:1235.17px;font-size:22.50px;line-height:22.50px;font-weight:400;color:#67676f;letter-spacing:1.166px;-webkit-text-stroke:0.35px #67676f;"><span style="clip-path:polygon(-20px -40px,27.0px -40px,27.0px 17.32px,8.22px 17.32px,8.22px 45.0px,5.08px 45.0px,5.08px 17.32px,-20px 17.32px)">1</span>0.0.0.<span style="clip-path:polygon(-20px -40px,27.0px -40px,27.0px 17.32px,8.22px 17.32px,8.22px 45.0px,5.08px 45.0px,5.08px 17.32px,-20px 17.32px)">1</span>72</div>
<div class="t" style="left:200.05px;top:1279.65px;font-size:26.00px;line-height:26.00px;font-weight:400;color:#ededef;letter-spacing:0.913px;-webkit-text-stroke:0.50px #ededef;">cygnus</div>
<div class="t" style="left:200.41px;top:1315.17px;font-size:22.50px;line-height:22.50px;font-weight:400;color:#67676f;letter-spacing:1.151px;-webkit-text-stroke:0.35px #67676f;"><span style="clip-path:polygon(-20px -40px,27.0px -40px,27.0px 17.32px,8.22px 17.32px,8.22px 45.0px,5.08px 45.0px,5.08px 17.32px,-20px 17.32px)">1</span>0.0.0.<span style="clip-path:polygon(-20px -40px,27.0px -40px,27.0px 17.32px,8.22px 17.32px,8.22px 45.0px,5.08px 45.0px,5.08px 17.32px,-20px 17.32px)">1</span>73</div>
<div class="t" style="left:250.85px;top:2399.35px;font-size:22.00px;line-height:22.00px;font-weight:400;color:#a6a6ae;letter-spacing:-0.256px;-webkit-text-stroke:0.30px #a6a6ae;">Manual</div>
<div class="t" style="left:448.29px;top:112.90px;font-size:31.00px;line-height:31.00px;font-weight:700;color:#ececee;letter-spacing:-0.438px;">arcturus</div>
<div class="t" style="left:1500.94px;top:114.75px;font-size:27.50px;line-height:27.50px;font-weight:700;color:#ececee;letter-spacing:0.600px;transform:scaleX(0.8999);transform-origin:0 0;">Edit</div>
<div class="t" style="left:479.96px;top:214.28px;font-size:23.00px;line-height:23.00px;font-weight:400;color:#a7a7af;letter-spacing:0.394px;-webkit-text-stroke:0.45px #a7a7af;">Connected</div>
<div class="t" style="left:480.09px;top:243.20px;font-size:22.50px;line-height:22.50px;font-weight:400;color:#65656f;letter-spacing:0.477px;-webkit-text-stroke:0.50px #65656f;"><span style="clip-path:polygon(-20px -40px,27.0px -40px,27.0px 17.32px,8.30px 17.32px,8.30px 45.0px,5.01px 45.0px,5.01px 17.32px,-20px 17.32px)">1</span>0.0.0.<span style="clip-path:polygon(-20px -40px,27.0px -40px,27.0px 17.32px,8.30px 17.32px,8.30px 45.0px,5.01px 45.0px,5.01px 17.32px,-20px 17.32px)">1</span>60</div>
<div class="t" style="left:479.30px;top:271.30px;font-size:22.50px;line-height:22.50px;font-weight:400;color:#65656f;letter-spacing:-0.030px;-webkit-text-stroke:0.50px #65656f;">Last updated: 8:<span style="clip-path:polygon(-20px -40px,27.0px -40px,27.0px 17.32px,8.30px 17.32px,8.30px 45.0px,5.01px 45.0px,5.01px 17.32px,-20px 17.32px)">1</span>4:2<span style="clip-path:polygon(-20px -40px,27.0px -40px,27.0px 17.32px,8.30px 17.32px,8.30px 45.0px,5.01px 45.0px,5.01px 17.32px,-20px 17.32px)">1</span> AM</div>
<div class="t" style="left:500.20px;top:338.30px;font-size:21.00px;line-height:21.00px;font-weight:700;color:#a3a3aa;letter-spacing:2.342px;">INFO</div>
<div class="t" style="left:463.38px;top:387.40px;font-size:21.00px;line-height:21.00px;font-weight:400;color:#6f7384;letter-spacing:0.927px;-webkit-text-stroke:0.80px #6f7384;">Uptime</div>
<div class="t" style="left:600.25px;top:387.80px;font-size:21.00px;line-height:21.00px;font-weight:700;color:#c2c4ce;letter-spacing:0.338px;">57d 20h 23m</div>
<div class="t" style="left:463.28px;top:431.20px;font-size:21.00px;line-height:21.00px;font-weight:400;color:#6f7384;letter-spacing:0.858px;-webkit-text-stroke:0.80px #6f7384;">Model</div>
<div class="t" style="left:600.04px;top:431.60px;font-size:21.00px;line-height:21.00px;font-weight:700;color:#c2c4ce;letter-spacing:-0.383px;">CP<span style="clip-path:polygon(-20px -40px,25.2px -40px,25.2px 15.86px,8.18px 15.86px,8.18px 42.0px,4.50px 42.0px,4.50px 15.86px,-20px 15.86px)">1</span>500PFCLCDa</div>
<div class="t" style="left:463.28px;top:457.50px;font-size:21.00px;line-height:21.00px;font-weight:400;color:#6f7384;letter-spacing:0.287px;-webkit-text-stroke:0.80px #6f7384;">Power</div>
<div class="t" style="left:599.46px;top:457.90px;font-size:21.00px;line-height:21.00px;font-weight:700;color:#c2c4ce;letter-spacing:0.217px;"><span style="clip-path:polygon(-20px -40px,25.2px -40px,25.2px 15.86px,8.18px 15.86px,8.18px 42.0px,4.50px 42.0px,4.50px 15.86px,-20px 15.86px)">1</span>500 VA · <span style="clip-path:polygon(-20px -40px,25.2px -40px,25.2px 15.86px,8.18px 15.86px,8.18px 42.0px,4.50px 42.0px,4.50px 15.86px,-20px 15.86px)">1</span>000 W</div>
<div class="t" style="left:463.93px;top:483.40px;font-size:21.00px;line-height:21.00px;font-weight:400;color:#6f7384;letter-spacing:0.616px;-webkit-text-stroke:0.80px #6f7384;">Current</div>
<div class="t" style="left:599.46px;top:483.80px;font-size:21.00px;line-height:21.00px;font-weight:700;color:#c2c4ce;letter-spacing:-0.157px;"><span style="clip-path:polygon(-20px -40px,25.2px -40px,25.2px 15.86px,8.18px 15.86px,8.18px 42.0px,4.50px 42.0px,4.50px 15.86px,-20px 15.86px)">1</span>2.5 A</div>
<div class="t" style="left:464.91px;top:509.00px;font-size:21.00px;line-height:21.00px;font-weight:400;color:#6f7384;letter-spacing:0.543px;-webkit-text-stroke:0.80px #6f7384;">Voltage</div>
<div class="t" style="left:599.46px;top:509.40px;font-size:21.00px;line-height:21.00px;font-weight:700;color:#c2c4ce;letter-spacing:-0.485px;"><span style="clip-path:polygon(-20px -40px,25.2px -40px,25.2px 15.86px,8.18px 15.86px,8.18px 42.0px,4.50px 42.0px,4.50px 15.86px,-20px 15.86px)">1</span><span style="clip-path:polygon(-20px -40px,25.2px -40px,25.2px 15.86px,8.18px 15.86px,8.18px 42.0px,4.50px 42.0px,4.50px 15.86px,-20px 15.86px)">1</span>9 V</div>
<div class="t" style="left:463.28px;top:535.30px;font-size:21.00px;line-height:21.00px;font-weight:400;color:#6f7384;letter-spacing:0.456px;-webkit-text-stroke:0.80px #6f7384;">Frequency</div>
<div class="t" style="left:600.13px;top:535.70px;font-size:21.00px;line-height:21.00px;font-weight:700;color:#c2c4ce;letter-spacing:0.817px;">60 Hz</div>
<div class="t" style="left:463.38px;top:579.10px;font-size:21.00px;line-height:21.00px;font-weight:400;color:#6f7384;letter-spacing:-0.774px;-webkit-text-stroke:0.80px #6f7384;">UPS FW</div>
<div class="t" style="left:600.04px;top:579.50px;font-size:21.00px;line-height:21.00px;font-weight:700;color:#c2c4ce;letter-spacing:-0.075px;">CR0<span style="clip-path:polygon(-20px -40px,25.2px -40px,25.2px 15.86px,8.18px 15.86px,8.18px 42.0px,4.50px 42.0px,4.50px 15.86px,-20px 15.86px)">1</span>802CBH<span style="clip-path:polygon(-20px -40px,25.2px -40px,25.2px 15.86px,8.18px 15.86px,8.18px 42.0px,4.50px 42.0px,4.50px 15.86px,-20px 15.86px)">1</span><span style="clip-path:polygon(-20px -40px,25.2px -40px,25.2px 15.86px,8.18px 15.86px,8.18px 42.0px,4.50px 42.0px,4.50px 15.86px,-20px 15.86px)">1</span></div>
<div class="t" style="left:463.28px;top:605.10px;font-size:21.00px;line-height:21.00px;font-weight:400;color:#6f7384;letter-spacing:-0.221px;-webkit-text-stroke:0.80px #6f7384;">RMCard FW</div>
<div class="t" style="left:599.46px;top:605.50px;font-size:21.00px;line-height:21.00px;font-weight:700;color:#c2c4ce;letter-spacing:-0.052px;"><span style="clip-path:polygon(-20px -40px,25.2px -40px,25.2px 15.86px,8.18px 15.86px,8.18px 42.0px,4.50px 42.0px,4.50px 15.86px,-20px 15.86px)">1</span>.6.0</div>
<div class="t" style="left:509.56px;top:696.15px;font-size:21.50px;line-height:21.50px;font-weight:400;color:#9a9aa1;letter-spacing:-0.143px;-webkit-text-stroke:0.20px #9a9aa1;">Add a note...</div>
<div class="t" style="left:496.96px;top:795.25px;font-size:20.50px;line-height:20.50px;font-weight:700;color:#4397f5;letter-spacing:2.498px;">OUTPUT</div>
<div class="t" style="left:588.07px;top:848.60px;font-size:68.00px;line-height:68.00px;font-weight:700;color:#ececee;letter-spacing:1.500px;transform:scaleX(1.0792);transform-origin:0 0;">8<span style="clip-path:polygon(-20px -40px,81.6px -40px,81.6px 54.06px,25.60px 54.06px,25.60px 136.0px,15.47px 136.0px,15.47px 54.06px,-20px 54.06px)">1</span></div>
<div class="t" style="left:669.47px;top:881.10px;font-size:30.00px;line-height:30.00px;font-weight:700;color:#9ea2b4;letter-spacing:0.000px;">W</div>
<div class="t" style="left:588.89px;top:926.30px;font-size:20.80px;line-height:20.80px;font-weight:400;color:#a8abb8;letter-spacing:0.445px;-webkit-text-stroke:0.40px #a8abb8;">Power Output</div>
<div class="t" style="left:993.58px;top:848.60px;font-size:68.00px;line-height:68.00px;font-weight:700;color:#ececee;letter-spacing:1.500px;transform:scaleX(0.9733);transform-origin:0 0;">0.7</div>
<div class="t" style="left:1095.95px;top:881.10px;font-size:30.00px;line-height:30.00px;font-weight:700;color:#9ea2b4;letter-spacing:0.000px;">A</div>
<div class="t" style="left:995.34px;top:925.90px;font-size:20.80px;line-height:20.80px;font-weight:400;color:#a8abb8;letter-spacing:0.244px;-webkit-text-stroke:0.40px #a8abb8;">Current</div>
<div class="t" style="left:1400.48px;top:849.00px;font-size:68.00px;line-height:68.00px;font-weight:700;color:#62d468;letter-spacing:0.000px;transform:scaleX(1.1201);transform-origin:0 0;">8</div>
<div class="t" style="left:1449.45px;top:881.50px;font-size:30.00px;line-height:30.00px;font-weight:700;color:#9ea2b4;letter-spacing:0.000px;">%</div>
<div class="t" style="left:1401.39px;top:926.30px;font-size:20.80px;line-height:20.80px;font-weight:400;color:#a8abb8;letter-spacing:-0.073px;-webkit-text-stroke:0.40px #a8abb8;">Load</div>
<div class="t" style="left:463.91px;top:1006.05px;font-size:25.20px;line-height:25.20px;font-weight:400;color:#a6a9b8;letter-spacing:0.609px;-webkit-text-stroke:1.10px #a6a9b8;">Status</div>
<div class="t" style="left:1522.63px;top:1004.00px;font-size:30.00px;line-height:30.00px;font-weight:700;color:#62d468;letter-spacing:0.400px;transform:scaleX(0.9508);transform-origin:0 0;">Online</div>
<div class="t" style="left:464.94px;top:1062.15px;font-size:25.20px;line-height:25.20px;font-weight:400;color:#a6a9b8;letter-spacing:0.365px;-webkit-text-stroke:1.10px #a6a9b8;">Voltage</div>
<div class="t" style="left:1508.69px;top:1060.30px;font-size:30.00px;line-height:30.00px;font-weight:700;color:#ececee;letter-spacing:0.400px;transform:scaleX(0.9782);transform-origin:0 0;"><span style="clip-path:polygon(-20px -40px,36.0px -40px,36.0px 22.94px,11.52px 22.94px,11.52px 60.0px,6.60px 60.0px,6.60px 22.94px,-20px 22.94px)">1</span>2<span style="clip-path:polygon(-20px -40px,36.0px -40px,36.0px 22.94px,11.52px 22.94px,11.52px 60.0px,6.60px 60.0px,6.60px 22.94px,-20px 22.94px)">1</span>.5 V</div>
<div class="t" style="left:462.98px;top:1117.85px;font-size:25.20px;line-height:25.20px;font-weight:400;color:#a6a9b8;letter-spacing:0.339px;-webkit-text-stroke:1.10px #a6a9b8;">Frequency</div>
<div class="t" style="left:1500.43px;top:1116.50px;font-size:30.00px;line-height:30.00px;font-weight:700;color:#ececee;letter-spacing:0.400px;transform:scaleX(1.0656);transform-origin:0 0;">60.0 Hz</div>
<div class="t" style="left:465.00px;top:1173.95px;font-size:25.20px;line-height:25.20px;font-weight:400;color:#a6a9b8;letter-spacing:0.329px;-webkit-text-stroke:1.10px #a6a9b8;">Apparent</div>
<div class="t" style="left:1527.75px;top:1172.50px;font-size:30.00px;line-height:30.00px;font-weight:700;color:#ececee;letter-spacing:0.400px;transform:scaleX(1.0008);transform-origin:0 0;">89 VA</div>
<div class="t" style="left:509.83px;top:1280.45px;font-size:20.50px;line-height:20.50px;font-weight:700;color:#62d468;letter-spacing:2.020px;">BATTERY</div>
<div class="t" style="left:518.69px;top:1331.90px;font-size:68.00px;line-height:68.00px;font-weight:700;color:#ececee;letter-spacing:1.500px;transform:scaleX(1.0356);transform-origin:0 0;"><span style="clip-path:polygon(-20px -40px,81.6px -40px,81.6px 54.06px,25.60px 54.06px,25.60px 136.0px,15.47px 136.0px,15.47px 54.06px,-20px 54.06px)">1</span>00</div>
<div class="t" style="left:645.35px;top:1364.40px;font-size:30.00px;line-height:30.00px;font-weight:700;color:#9ea2b4;letter-spacing:0.000px;">%</div>
<div class="t" style="left:522.64px;top:1409.60px;font-size:20.80px;line-height:20.80px;font-weight:400;color:#a8abb8;letter-spacing:0.294px;-webkit-text-stroke:0.40px #a8abb8;">Charge</div>
<div class="t" style="left:796.91px;top:1331.90px;font-size:68.00px;line-height:68.00px;font-weight:700;color:#ececee;letter-spacing:1.500px;transform:scaleX(0.9716);transform-origin:0 0;">274</div>
<div class="t" style="left:917.92px;top:1364.40px;font-size:30.00px;line-height:30.00px;font-weight:700;color:#9ea2b4;letter-spacing:-0.049px;">min</div>
<div class="t" style="left:797.69px;top:1409.60px;font-size:20.80px;line-height:20.80px;font-weight:400;color:#a8abb8;letter-spacing:0.248px;-webkit-text-stroke:0.40px #a8abb8;">Runtime</div>
<div class="t" style="left:463.91px;top:1489.75px;font-size:25.20px;line-height:25.20px;font-weight:400;color:#a6a9b8;letter-spacing:0.549px;-webkit-text-stroke:1.10px #a6a9b8;">Status</div>
<div class="t" style="left:899.95px;top:1488.20px;font-size:30.00px;line-height:30.00px;font-weight:700;color:#ececee;letter-spacing:0.400px;transform:scaleX(0.9701);transform-origin:0 0;">Normal</div>
<div class="t" style="left:464.94px;top:1545.75px;font-size:25.20px;line-height:25.20px;font-weight:400;color:#a6a9b8;letter-spacing:0.381px;-webkit-text-stroke:1.10px #a6a9b8;">Voltage</div>
<div class="t" style="left:937.05px;top:1544.00px;font-size:30.00px;line-height:30.00px;font-weight:700;color:#ececee;letter-spacing:0.400px;transform:scaleX(1.0119);transform-origin:0 0;">24 V</div>
<div class="t" style="left:462.98px;top:1609.75px;font-size:25.20px;line-height:25.20px;font-weight:400;color:#a6a9b8;letter-spacing:0.758px;-webkit-text-stroke:1.10px #a6a9b8;">Health</div>
<div class="t" style="left:958.76px;top:1608.30px;font-size:30.00px;line-height:30.00px;font-weight:700;color:#62d468;letter-spacing:0.400px;transform:scaleX(0.9250);transform-origin:0 0;">OK</div>
<div class="t" style="left:1107.03px;top:1280.45px;font-size:20.50px;line-height:20.50px;font-weight:700;color:#d95af3;letter-spacing:2.673px;">INPUT</div>
<div class="t" style="left:1072.87px;top:1332.00px;font-size:68.00px;line-height:68.00px;font-weight:700;color:#ececee;letter-spacing:1.500px;transform:scaleX(0.9078);transform-origin:0 0;">Normal</div>
<div class="t" style="left:1076.26px;top:1409.60px;font-size:20.80px;line-height:20.80px;font-weight:400;color:#a8abb8;letter-spacing:0.227px;-webkit-text-stroke:0.40px #a8abb8;">Status</div>
<div class="t" style="left:1076.14px;top:1489.85px;font-size:25.20px;line-height:25.20px;font-weight:400;color:#a6a9b8;letter-spacing:0.381px;-webkit-text-stroke:1.10px #a6a9b8;">Voltage</div>
<div class="t" style="left:1507.78px;top:1488.00px;font-size:30.00px;line-height:30.00px;font-weight:700;color:#ececee;letter-spacing:0.400px;transform:scaleX(0.9868);transform-origin:0 0;"><span style="clip-path:polygon(-20px -40px,36.0px -40px,36.0px 22.94px,11.52px 22.94px,11.52px 60.0px,6.60px 60.0px,6.60px 22.94px,-20px 22.94px)">1</span>2<span style="clip-path:polygon(-20px -40px,36.0px -40px,36.0px 22.94px,11.52px 22.94px,11.52px 60.0px,6.60px 60.0px,6.60px 22.94px,-20px 22.94px)">1</span>.5 V</div>
<div class="t" style="left:1074.18px;top:1546.85px;font-size:25.20px;line-height:25.20px;font-weight:400;color:#a6a9b8;letter-spacing:0.339px;-webkit-text-stroke:1.10px #a6a9b8;">Frequency</div>
<div class="t" style="left:1500.13px;top:1545.00px;font-size:30.00px;line-height:30.00px;font-weight:700;color:#ececee;letter-spacing:0.400px;transform:scaleX(1.0685);transform-origin:0 0;">60.0 Hz</div>
<div class="t" style="left:491.73px;top:1717.65px;font-size:20.50px;line-height:20.50px;font-weight:700;color:#62d5e4;letter-spacing:2.341px;">ENVIRONMENT</div>
<div class="t" style="left:660.61px;top:1769.70px;font-size:68.00px;line-height:68.00px;font-weight:700;color:#ececee;letter-spacing:1.500px;transform:scaleX(1.0249);transform-origin:0 0;">75.0</div>
<div class="t" style="left:807.58px;top:1802.20px;font-size:30.00px;line-height:30.00px;font-weight:700;color:#9ea2b4;letter-spacing:0.895px;">°F</div>
<div class="t" style="left:663.33px;top:1846.60px;font-size:20.80px;line-height:20.80px;font-weight:400;color:#a8abb8;letter-spacing:0.504px;-webkit-text-stroke:0.40px #a8abb8;">Temperature</div>
<div class="t" style="left:1287.61px;top:1769.70px;font-size:68.00px;line-height:68.00px;font-weight:700;color:#ececee;letter-spacing:1.500px;transform:scaleX(1.0195);transform-origin:0 0;">37</div>
<div class="t" style="left:1371.45px;top:1802.20px;font-size:30.00px;line-height:30.00px;font-weight:700;color:#9ea2b4;letter-spacing:0.000px;">%</div>
<div class="t" style="left:1286.19px;top:1846.60px;font-size:20.80px;line-height:20.80px;font-weight:400;color:#a8abb8;letter-spacing:0.650px;-webkit-text-stroke:0.40px #a8abb8;">Humidity</div>
<div class="t" style="left:464.48px;top:1926.45px;font-size:25.20px;line-height:25.20px;font-weight:400;color:#a6a9b8;letter-spacing:0.232px;-webkit-text-stroke:1.10px #a6a9b8;">Temp Alarms</div>
<div class="t" style="left:1481.53px;top:1925.10px;font-size:30.00px;line-height:30.00px;font-weight:700;color:#ececee;letter-spacing:0.400px;transform:scaleX(1.0541);transform-origin:0 0;">59–90 °F</div>
<div class="t" style="left:462.98px;top:1982.75px;font-size:25.20px;line-height:25.20px;font-weight:400;color:#a6a9b8;letter-spacing:0.631px;-webkit-text-stroke:1.10px #a6a9b8;">Humidity Alarms</div>
<div class="t" style="left:1485.91px;top:1981.50px;font-size:30.00px;line-height:30.00px;font-weight:700;color:#ececee;letter-spacing:0.400px;transform:scaleX(1.0504);transform-origin:0 0;">20–80 %</div>
<div class="t" style="left:654.96px;top:2096.70px;font-size:20.50px;line-height:20.50px;font-weight:400;color:#4a9af5;letter-spacing:0.600px;-webkit-text-stroke:0.30px #4a9af5;transform:scaleX(1.0019);transform-origin:0 0;">Watts</div>
<div class="t" style="left:780.71px;top:2096.70px;font-size:20.50px;line-height:20.50px;font-weight:400;color:#f0a04a;letter-spacing:0.600px;-webkit-text-stroke:0.30px #f0a04a;transform:scaleX(0.9829);transform-origin:0 0;">Amps</div>
<div class="t" style="left:464.22px;top:2126.10px;font-size:20.50px;line-height:20.50px;font-weight:400;color:#a3a3ab;letter-spacing:0.000px;-webkit-text-stroke:0.90px #a3a3ab;transform:scaleX(1.0600);transform-origin:0 0;"><span style="clip-path:polygon(-20px -40px,24.6px -40px,24.6px 16.47px,7.82px 16.47px,7.82px 41.0px,4.31px 41.0px,4.31px 16.47px,-20px 16.47px)">1</span>00</div>
<div class="t" style="left:476.37px;top:2180.90px;font-size:20.50px;line-height:20.50px;font-weight:400;color:#a3a3ab;letter-spacing:0.000px;-webkit-text-stroke:0.90px #a3a3ab;transform:scaleX(1.0600);transform-origin:0 0;">75</div>
<div class="t" style="left:476.30px;top:2235.70px;font-size:20.50px;line-height:20.50px;font-weight:400;color:#a3a3ab;letter-spacing:0.000px;-webkit-text-stroke:0.90px #a3a3ab;transform:scaleX(1.0600);transform-origin:0 0;">50</div>
<div class="t" style="left:476.37px;top:2290.80px;font-size:20.50px;line-height:20.50px;font-weight:400;color:#a3a3ab;letter-spacing:0.000px;-webkit-text-stroke:0.90px #a3a3ab;transform:scaleX(1.0600);transform-origin:0 0;">25</div>
<div class="t" style="left:488.39px;top:2345.80px;font-size:20.50px;line-height:20.50px;font-weight:400;color:#a3a3ab;letter-spacing:0.000px;-webkit-text-stroke:0.90px #a3a3ab;transform:scaleX(1.0600);transform-origin:0 0;">0</div>
<div class="t" style="left:970.39px;top:2126.10px;font-size:20.50px;line-height:20.50px;font-weight:400;color:#f0a04a;letter-spacing:0.000px;-webkit-text-stroke:0.90px #f0a04a;transform:scaleX(1.0600);transform-origin:0 0;"><span style="clip-path:polygon(-20px -40px,24.6px -40px,24.6px 16.47px,7.82px 16.47px,7.82px 41.0px,4.31px 41.0px,4.31px 16.47px,-20px 16.47px)">1</span>.2</div>
<div class="t" style="left:971.63px;top:2180.90px;font-size:20.50px;line-height:20.50px;font-weight:400;color:#f0a04a;letter-spacing:0.000px;-webkit-text-stroke:0.90px #f0a04a;transform:scaleX(1.0600);transform-origin:0 0;">0.9</div>
<div class="t" style="left:971.63px;top:2235.70px;font-size:20.50px;line-height:20.50px;font-weight:400;color:#f0a04a;letter-spacing:0.000px;-webkit-text-stroke:0.90px #f0a04a;transform:scaleX(1.0600);transform-origin:0 0;">0.6</div>
<div class="t" style="left:971.63px;top:2290.80px;font-size:20.50px;line-height:20.50px;font-weight:400;color:#f0a04a;letter-spacing:0.000px;-webkit-text-stroke:0.90px #f0a04a;transform:scaleX(1.0600);transform-origin:0 0;">0.3</div>
<div class="t" style="left:971.63px;top:2345.80px;font-size:20.50px;line-height:20.50px;font-weight:400;color:#f0a04a;letter-spacing:0.000px;-webkit-text-stroke:0.90px #f0a04a;transform:scaleX(1.0600);transform-origin:0 0;">0.0</div>
<div class="t" style="left:1074.64px;top:2104.25px;font-size:21.50px;line-height:21.50px;font-weight:400;color:#a9aabb;letter-spacing:0.154px;-webkit-text-stroke:0.40px #a9aabb;">Battery %</div>
<div class="t" style="left:1572.29px;top:2139.90px;font-size:22.50px;line-height:22.50px;font-weight:400;color:#b0b0b8;letter-spacing:0.000px;-webkit-text-stroke:0.30px #b0b0b8;"><span style="clip-path:polygon(-20px -40px,27.0px -40px,27.0px 17.32px,8.20px 17.32px,8.20px 45.0px,5.11px 45.0px,5.11px 17.32px,-20px 17.32px)">1</span>00</div>
<div class="t" style="left:1573.30px;top:2194.50px;font-size:22.50px;line-height:22.50px;font-weight:400;color:#b0b0b8;letter-spacing:0.000px;-webkit-text-stroke:0.30px #b0b0b8;">75</div>
<div class="t" style="left:1573.55px;top:2249.40px;font-size:22.50px;line-height:22.50px;font-weight:400;color:#b0b0b8;letter-spacing:0.000px;-webkit-text-stroke:0.30px #b0b0b8;">50</div>
<div class="t" style="left:1573.32px;top:2304.70px;font-size:22.50px;line-height:22.50px;font-weight:400;color:#b0b0b8;letter-spacing:0.000px;-webkit-text-stroke:0.30px #b0b0b8;">25</div>
<div class="t" style="left:1573.57px;top:2360.00px;font-size:22.50px;line-height:22.50px;font-weight:400;color:#b0b0b8;letter-spacing:0.000px;-webkit-text-stroke:0.30px #b0b0b8;">0</div>
</body></html>
